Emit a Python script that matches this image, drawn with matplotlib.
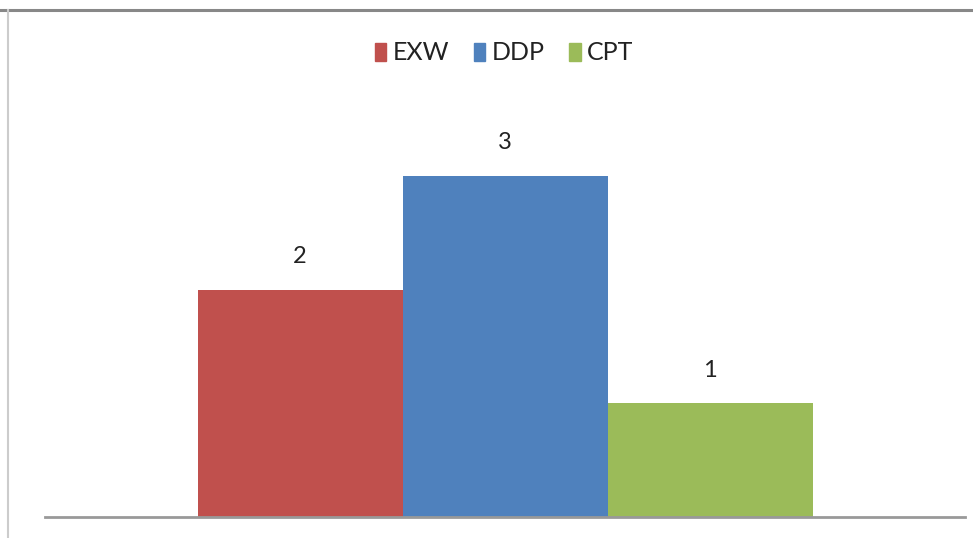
import matplotlib
matplotlib.use("Agg")
import matplotlib.pyplot as plt
from matplotlib.lines import Line2D

series = ["EXW", "DDP", "CPT"]
values = [2, 3, 1]
colors = ["#C0504D", "#4F81BD", "#9BBB59"]

W, H = 973, 538
fig = plt.figure(figsize=(W / 100, H / 100), dpi=100)
plt.rcParams['font.family'] = ['Lato', 'DejaVu Sans']

left, right, base, top = 45, 965, 517, 60
ax = fig.add_axes([left / W, (H - base) / H, (right - left) / W, (base - top) / H])
unit = 113.7
ax.set_ylim(0, (base - top) / unit)
half = (right - left) / 205 / 2
ax.set_xlim(-half, half)

positions = [-1, 0, 1]
for p, v, c, s in zip(positions, values, colors, series):
    ax.bar(p, v, width=1.0, color=c, label=s, zorder=2)
    ax.text(p, v + 33 / unit, str(v), ha="center", va="center", fontsize=17, color="#222222")

for sp in ["top", "right", "left"]:
    ax.spines[sp].set_visible(False)
ax.spines["bottom"].set_color("#999999")
ax.spines["bottom"].set_linewidth(2)
ax.set_xticks([])
ax.set_yticks([])

leg = fig.legend(handles=[plt.Rectangle((0, 0), 1, 1, color=c) for c in colors], labels=series,
                 loc="center", bbox_to_anchor=(504 / W, 1 - 53 / H), ncol=3, frameon=False,
                 fontsize=18, handlelength=0.45, handleheight=0.7, handletextpad=0.25,
                 columnspacing=1.0)
for t in leg.get_texts():
    t.set_color("#222222")

fig.add_artist(Line2D([0, 1], [1 - 10 / H, 1 - 10 / H], color="#888888", lw=2.2, transform=fig.transFigure))
fig.add_artist(Line2D([8 / W, 8 / W], [0, 1 - 10 / H], color="#CCCCCC", lw=1.5, transform=fig.transFigure))

fig.savefig("out.png", dpi=100)
